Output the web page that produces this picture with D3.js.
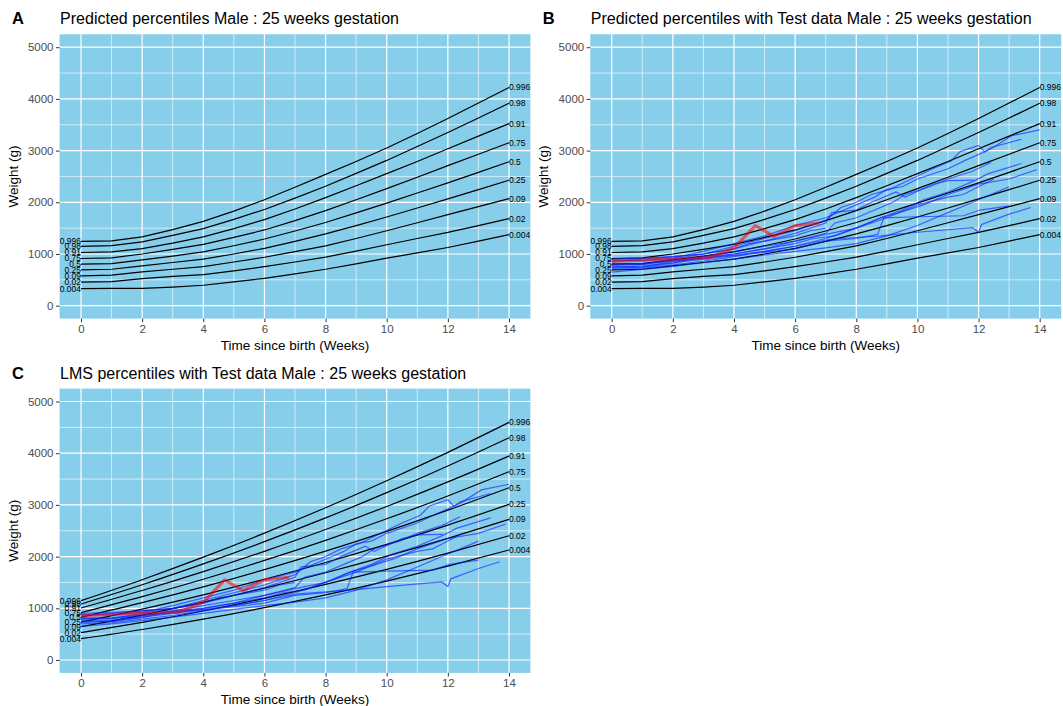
<!DOCTYPE html>
<html>
<head>
<meta charset="utf-8">
<script src="https://cdn.jsdelivr.net/npm/d3@7"></script>
<style>
  body { margin: 0; background: #ffffff; }
  svg { font-family: "Liberation Sans", Arial, sans-serif; }
</style>
</head>
<body>
<svg id="vis" width="1063" height="706"></svg>
<script>
// percentile labels, top to bottom
const pctLabels = ["0.996", "0.98", "0.91", "0.75", "0.5", "0.25", "0.09", "0.02", "0.004"];

// predicted percentiles (panels A and B), one value per week 0..14
const predWeeks = [0, 1, 2, 3, 4, 5, 6, 7, 8, 9, 10, 11, 12, 13, 14];
const pred996 = [1243, 1255, 1330, 1470, 1630, 1830, 2050, 2290, 2540, 2790, 3050, 3330, 3620, 3920, 4221];
const pred98  = [1146, 1160, 1235, 1360, 1490, 1670, 1860, 2080, 2310, 2560, 2810, 3080, 3350, 3630, 3916];
const pred91  = [1029, 1040, 1105, 1210, 1330, 1490, 1665, 1870, 2090, 2320, 2555, 2790, 3035, 3280, 3522];
const pred75  = [913, 925, 1000, 1090, 1185, 1320, 1465, 1645, 1840, 2050, 2265, 2485, 2710, 2930, 3153];
const pred50  = [804, 815, 885, 960, 1040, 1160, 1290, 1445, 1610, 1795, 1985, 2180, 2375, 2580, 2784];
const pred25  = [693, 705, 770, 835, 900, 1000, 1110, 1245, 1390, 1550, 1715, 1890, 2065, 2245, 2427];
const pred09  = [577, 590, 655, 705, 755, 845, 937, 1045, 1157, 1300, 1450, 1605, 1760, 1915, 2072];
const pred02  = [454, 465, 525, 565, 600, 675, 755, 845, 940, 1055, 1178, 1300, 1417, 1550, 1683];
const pred004 = [330, 335, 335, 360, 395, 460, 530, 615, 705, 810, 920, 1020, 1125, 1250, 1373];

// LMS percentiles (panel C), every second week
const lmsWeeks = [0, 2, 4, 6, 8, 10, 12, 14];
const lms996 = [1147, 1553, 1989, 2453, 2945, 3467, 4017, 4597];
const lms98  = [1083, 1456, 1859, 2289, 2748, 3237, 3754, 4300];
const lms91  = [1006, 1345, 1710, 2102, 2523, 2970, 3445, 3946];
const lms75  = [915, 1225, 1562, 1926, 2315, 2731, 3173, 3642];
const lms50  = [826, 1108, 1414, 1747, 2105, 2489, 2899, 3333];
const lms25  = [735, 985, 1261, 1562, 1886, 2236, 2610, 3011];
const lms09  = [644, 869, 1118, 1390, 1687, 2008, 2353, 2721];
const lms02  = [528, 727, 948, 1192, 1461, 1752, 2067, 2404];
const lms004 = [412, 590, 791, 1013, 1258, 1526, 1816, 2128];

// test infants: [week, weight]
const infant1  = [[0,820],[1,800],[2,900],[3,1000],[4,1150],[5,1300],[6,1450],[7,1650],[7.5,1900],[8,2000],[8.5,2150],[9.1,2250],[9.8,2450],[10.5,2650],[11.1,2800],[11.4,2980],[12,3100],[12.2,2975],[12.4,3060],[13.4,3220]];
const infant2  = [[0,880],[1,870],[2,920],[3,1050],[4,1200],[5,1350],[6,1550],[7,1700],[8,1950],[8.6,2100],[9,2250],[9.5,2300],[10,2450],[11,2650],[11.6,2820],[12.4,3030],[13.1,3290],[14,3400]];
const infant3  = [[0,760],[1,740],[2,820],[3,950],[4,1050],[5,1150],[6,1250],[7,1400],[7.3,1600],[8,1700],[8.6,1850],[9.2,2000],[9.6,2150],[10.4,2300],[11,2450],[11.8,2600],[12.4,2770]];
const infant4  = [[0,720],[1,750],[2,850],[3,950],[4,1000],[5,1100],[6,1200],[6.6,1300],[7.3,1350],[8,1500],[8.8,1700],[9.5,1850],[10.2,2050],[11,2200],[11.8,2400],[12.3,2550],[13.4,2750]];
const infant5  = [[0,800],[1,820],[2,870],[3,920],[4,980],[5,1050],[6,1150],[7,1300],[7.5,1400],[8.2,1550],[8.8,1700],[9.4,1800],[10.2,1950],[11,2150],[11.5,2250],[12,2350],[13,2450],[13.9,2630]];
const infant6  = [[0,700],[1,720],[2,790],[3,860],[4,950],[5,1050],[6,1150],[7.1,1280],[8.8,1350],[10,1420],[11.8,1510],[12,1420],[12.1,1570],[13,1770],[13.7,1900]];
const infant7  = [[0,740],[1,770],[2,830],[3,900],[4,970],[5,1030],[6,1100],[7,1250],[8,1300],[8.7,1380],[8.9,1700],[10,1720],[11.5,1740],[12.05,1850],[13,1930]];
const infant8  = [[0,850],[1,900],[2,950],[3,1000],[4,1100],[5,1250],[6,1400],[7,1600],[7.2,1800],[8,1850],[8.5,2000],[9.3,2200],[9.6,2100],[10.5,2350],[11,2420],[11.84,2430]];
const infant9  = [[0,780],[1,800],[2,860],[3,920],[4,1000],[5,1100],[6,1250],[7,1380],[8,1500],[9,1700],[10,1950],[11,2100],[11.5,2150],[12,2300],[12.5,2450]];
const infant10 = [[0,900],[1,920],[2,950],[3,1000],[4,1100],[4.5,1200],[5,1250],[6,1350],[6.5,1450],[7,1500]];
const infant11 = [[0,650],[1,700],[2,760],[3,830],[4,900],[5,980],[6,1050],[7,1120],[8,1200],[9,1350],[10,1550],[11,1800],[12,2050],[13,2300]];
// highlighted infant (red)
const infantRed = [[0,860],[0.7,870],[1.8,900],[3.2,925],[4,1120],[4.7,1550],[5.3,1340],[6,1550],[6.8,1600]];

const xTicks = [0, 2, 4, 6, 8, 10, 12, 14];
const yTicks = [0, 1000, 2000, 3000, 4000, 5000];

let predicted = [pred996, pred98, pred91, pred75, pred50, pred25, pred09, pred02, pred004];
let lms = [lms996, lms98, lms91, lms75, lms50, lms25, lms09, lms02, lms004];
let blueInfants = [infant1, infant2, infant3, infant4, infant5, infant6, infant7, infant8, infant9, infant10, infant11];

let svg = d3.select("svg#vis");

let panelW = 470.8, panelH = 284.3;

let panels = [
    {letter: "A", left: 59.6, top: 34.3, title: "Predicted percentiles Male : 25 weeks gestation",
        weeks: predWeeks, curves: predicted, test: false, smooth: false},
    {letter: "B", left: 590.3, top: 34.3, title: "Predicted percentiles with Test data Male : 25 weeks gestation",
        weeks: predWeeks, curves: predicted, test: true, smooth: false},
    {letter: "C", left: 59.6, top: 388.6, title: "LMS percentiles with Test data Male : 25 weeks gestation",
        weeks: lmsWeeks, curves: lms, test: true, smooth: true}
];

panels.forEach(drawPanel);

function drawPanel(p, i) {
    let x = d3.scaleLinear().domain([-0.7, 14.7]).range([0, panelW]);
    let y = d3.scaleLinear().domain([-250, 5250]).range([panelH, 0]);

    let g = svg.append("g").attr("transform", "translate(" + p.left + "," + p.top + ")");

    // panel letter + title
    svg.append("text")
        .attr("x", p.left - 47.5)
        .attr("y", p.top - 10)
        .style("font-size", "16.5px")
        .style("font-weight", "bold")
        .text(p.letter);
    svg.append("text")
        .attr("x", p.left + 0.5)
        .attr("y", p.top - 10)
        .style("font-size", "16px")
        .text(p.title);

    g.append("rect")
        .attr("width", panelW)
        .attr("height", panelH)
        .style("fill", "#87CEEB");

    // minor grid
    let xMinor = [1, 3, 5, 7, 9, 11, 13];
    let yMinor = [500, 1500, 2500, 3500, 4500];
    g.selectAll("line.xminor").data(xMinor).enter().append("line")
        .attr("x1", d => x(d)).attr("x2", d => x(d))
        .attr("y1", 0).attr("y2", panelH)
        .style("stroke", "#ffffff").style("stroke-width", 0.6);
    g.selectAll("line.yminor").data(yMinor).enter().append("line")
        .attr("y1", d => y(d)).attr("y2", d => y(d))
        .attr("x1", 0).attr("x2", panelW)
        .style("stroke", "#ffffff").style("stroke-width", 0.6);

    // major grid
    g.selectAll("line.xmajor").data(xTicks).enter().append("line")
        .attr("x1", d => x(d)).attr("x2", d => x(d))
        .attr("y1", 0).attr("y2", panelH)
        .style("stroke", "#ffffff").style("stroke-width", 1.2);
    g.selectAll("line.ymajor").data(yTicks).enter().append("line")
        .attr("y1", d => y(d)).attr("y2", d => y(d))
        .attr("x1", 0).attr("x2", panelW)
        .style("stroke", "#ffffff").style("stroke-width", 1.2);

    // axes
    let xAxis = g.append("g")
        .attr("transform", "translate(0," + panelH + ")")
        .call(d3.axisBottom(x).tickValues(xTicks).tickFormat(d3.format("d")).tickSize(3.6).tickPadding(2.5));
    let yAxis = g.append("g")
        .call(d3.axisLeft(y).tickValues(yTicks).tickFormat(d3.format("d")).tickSize(3.6).tickPadding(2.5));
    [xAxis, yAxis].forEach(function (a) {
        a.select(".domain").remove();
        a.selectAll("line").style("stroke", "#333333").style("stroke-width", 1);
        a.selectAll("text").style("fill", "#4D4D4D").style("font-size", "11.5px")
            .style("font-family", "'Liberation Sans', Arial, sans-serif");
    });

    g.append("text")
        .attr("x", panelW / 2)
        .attr("y", panelH + 31.5)
        .style("text-anchor", "middle")
        .style("font-size", "13.5px")
        .text("Time since birth (Weeks)");
    g.append("text")
        .attr("transform", "translate(" + (-42) + "," + (panelH / 2) + ") rotate(-90)")
        .style("text-anchor", "middle")
        .style("font-size", "13.5px")
        .text("Weight (g)");

    // clip
    let clipId = "clip" + p.letter;
    g.append("clipPath").attr("id", clipId)
        .append("rect").attr("width", panelW).attr("height", panelH);
    let plot = g.append("g").attr("clip-path", "url(#" + clipId + ")");

    let curveLine = d3.line()
        .x((d, j) => x(p.weeks[j]))
        .y(d => y(d))
        .curve(p.smooth ? d3.curveMonotoneX : d3.curveLinear);

    plot.selectAll("path.pct").data(p.curves).enter().append("path")
        .attr("d", curveLine)
        .style("fill", "none")
        .style("stroke", "#000000")
        .style("stroke-width", 1.2);

    if (p.test) {
        let infLine = d3.line().x(d => x(d[0])).y(d => y(d[1]));
        plot.selectAll("path.inf").data(blueInfants).enter().append("path")
            .attr("d", infLine)
            .style("fill", "none")
            .style("stroke", "#0a1eff")
            .style("stroke-opacity", 0.62)
            .style("stroke-width", 1.2);
        plot.append("path")
            .attr("d", infLine(infantRed))
            .style("fill", "none")
            .style("stroke", "#ff0000")
            .style("stroke-opacity", 0.55)
            .style("stroke-width", 3.2)
            .style("stroke-linejoin", "round");
    }

    // percentile labels at both ends
    plot.selectAll("text.lblR").data(p.curves).enter().append("text")
        .attr("x", x(14))
        .attr("y", d => y(d[d.length - 1]))
        .attr("dy", "0.35em")
        .style("font-size", "8.5px")
        .text((d, j) => pctLabels[j]);
    plot.selectAll("text.lblL").data(p.curves).enter().append("text")
        .attr("x", x(0))
        .attr("y", d => y(d[0]))
        .attr("dy", "0.35em")
        .style("text-anchor", "end")
        .style("font-size", "8.5px")
        .text((d, j) => pctLabels[j]);
}
</script>
</body>
</html>
